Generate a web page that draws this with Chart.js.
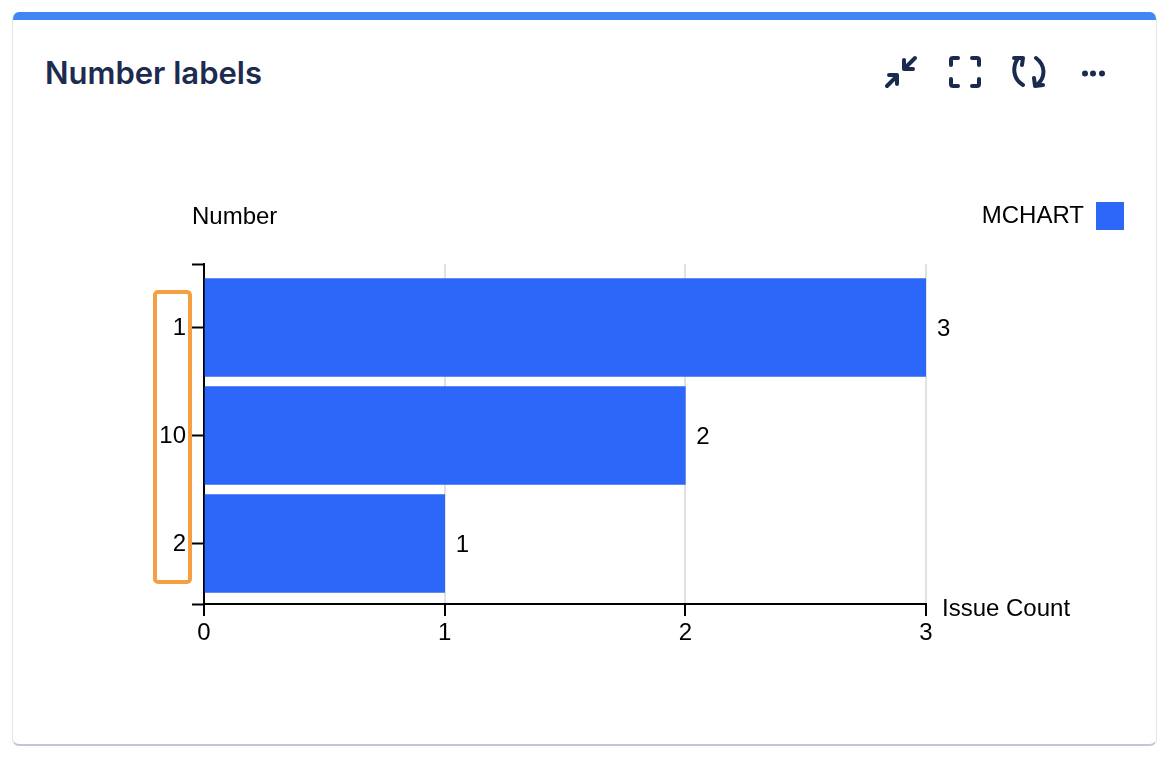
<!DOCTYPE html>
<html><head><meta charset="utf-8">
<script src="https://cdn.jsdelivr.net/npm/chart.js@4"></script>
<style>
html,body{margin:0;padding:0;background:#fff;width:1169px;height:758px;overflow:hidden}
#card{position:absolute;left:12px;top:12px;width:1145px;height:734px;box-sizing:border-box;background:#fff;border-radius:7px;border-left:1px solid #e3e4e8;border-right:1px solid #e3e4e8;border-bottom:2px solid #c3c6d4;overflow:hidden}
#bar{position:absolute;left:-1px;right:-1px;top:0;height:8px;background:#4285f4}
#title{position:absolute;left:45px;top:54px;font:600 31px Inter,"Open Sans",sans-serif;color:#1c2b4f;white-space:nowrap}
#icons{position:absolute;left:0;top:0}
#mark{position:absolute;left:153px;top:290px;width:39px;height:294px;box-sizing:border-box;border:4px solid #f4a040;border-radius:5px;z-index:3}
canvas{position:absolute;left:0;top:0;z-index:2}
</style></head><body>
<div id="card"><div id="bar"></div></div>
<div id="title">Number labels</div>
<svg id="icons" width="1169" height="758" fill="none" stroke="#1b2b4f" stroke-width="4" stroke-linecap="round" stroke-linejoin="round">
<path d="M887 86 L896 77 M889 75 H897 V84 M915 58 L905 68 M904 60 V69 H913"/>
<path d="M958 58 H953 Q951 58 951 60 V65 M972 58 H977 Q979 58 979 60 V65 M958 86 H953 Q951 86 951 84 V79 M972 86 H977 Q979 86 979 84 V79"/>
<path d="M1023 85 C1013 79 1012 67 1018 58 M1014 58 L1023 58 L1022 65 M1036 58 C1045 65 1046 76 1038 84 M1034 78 L1035 86 L1043 85"/>
<g fill="#1b2b4f" stroke="none"><circle cx="1085" cy="73.5" r="3"/><circle cx="1093" cy="73.5" r="3"/><circle cx="1102" cy="73.5" r="3"/></g>
</svg>
<div id="mark"></div>
<canvas id="c" width="1169" height="758" style="width:1169px;height:758px"></canvas>
<script>
const categories = ['1','10','2'];
const issueCounts = [3,2,1];
const xTickValues = [0,1,2,3];
const seriesName = 'MCHART';
const xAxisName = 'Issue Count';
const yAxisName = 'Number';

const FONT = '"Liberation Sans", Arial, sans-serif';
const BLUE = '#2d67f9';
const INK = '#000';
const yMin = -0.588, yMax = 2.56;

const annotate = {
  id:'annotate',
  afterDatasetsDraw(chart){
    const {ctx, scales:{x,y}} = chart;
    ctx.save();
    ctx.font = '24px '+FONT;
    ctx.fillStyle = INK;
    ctx.textBaseline = 'middle';
    ctx.textAlign = 'left';
    chart.getDatasetMeta(0).data.forEach((bar,i)=>{
      ctx.fillText(String(issueCounts[i]), bar.x+11, bar.y+2);
    });
    ctx.fillText(yAxisName, x.left-12, 217);
    ctx.fillText(xAxisName, x.right+16, y.bottom+5);
    ctx.restore();
  }
};

const gapAxis = {
  type:'linear',display:true,
  grid:{display:false},border:{display:false},ticks:{display:false}
};

new Chart(document.getElementById('c'),{
  type:'bar',
  data:{datasets:[{
    label:seriesName,
    data:issueCounts.map((v,i)=>({x:v,y:i})),
    backgroundColor:BLUE,
    borderWidth:0,
    barThickness:98
  }]},
  plugins:[annotate],
  options:{
    indexAxis:'y',
    responsive:false,
    animation:false,
    devicePixelRatio:1,
    layout:{padding:{top:202,right:45,bottom:0,left:0}},
    plugins:{
      tooltip:{enabled:false},
      legend:{
        position:'top',
        align:'start',
        rtl:true,
        onClick:null,
        labels:{boxWidth:28,boxHeight:28,padding:0,color:INK,font:{size:24,family:FONT}}
      }
    },
    scales:{
      x:{
        type:'linear',position:'bottom',min:0,max:3,
        afterBuildTicks(s){ s.ticks = xTickValues.map(v=>({value:v})); },
        afterFit(s){ s.height = 154; },
        grid:{color:'#e2e2e2',lineWidth:2,tickColor:INK,tickWidth:2,tickLength:12,drawOnChartArea:true},
        border:{color:INK,width:2},
        ticks:{color:INK,font:{size:24,family:FONT},padding:3,maxRotation:0}
      },
      y:{
        type:'linear',position:'left',reverse:true,min:yMin,max:yMax,offset:false,
        afterBuildTicks(s){ s.ticks = [yMin,0,1,2,yMax].map(v=>({value:v})); },
        afterFit(s){ s.width = 204; },
        grid:{offset:false,drawOnChartArea:false,tickColor:INK,tickWidth:2,tickLength:12},
        border:{color:INK,width:2},
        ticks:{color:INK,font:{size:24,family:FONT},padding:6,labelOffset:1,autoSkip:false,
          callback(v){ return categories[v] ?? ''; }}
      },
      rightGap:{...gapAxis,position:'right',afterFit(s){ s.width = 198; }},
      topGap:{...gapAxis,position:'top',afterFit(s){ s.height = 24; }}
    }
  }
});
</script>
</body></html>
